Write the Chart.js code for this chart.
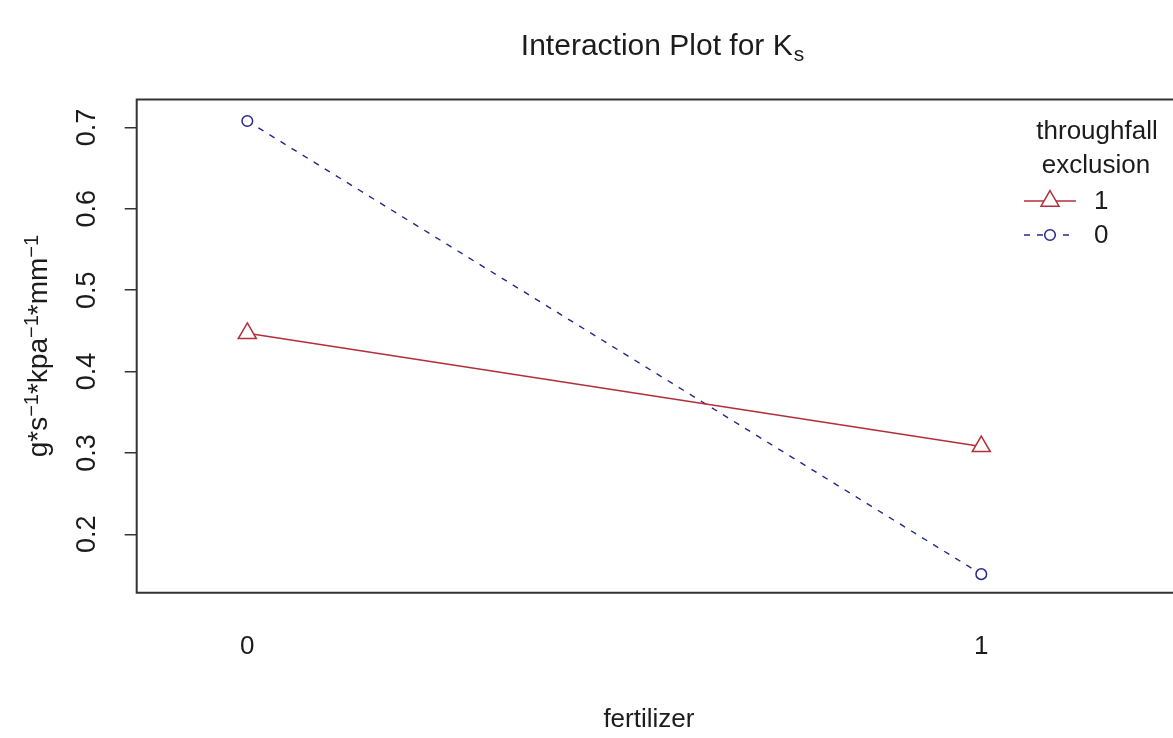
<!DOCTYPE html>
<html>
<head>
<meta charset="utf-8">
<script src="https://cdn.jsdelivr.net/npm/chart.js@4.4.0/dist/chart.umd.min.js"></script>
<style>
html, body { margin: 0; padding: 0; background: #fff; overflow: hidden; }
</style>
</head>
<body>
<canvas id="graficoInteraccion" width="1173" height="738"></canvas>
<script>
// datos
const fertilizerLevels = ['0', '1'];
const fertilizerX = [0, 1];
const exclusionLevels = ['1', '0'];
const ksExclusion1 = [0.447, 0.308];
const ksExclusion0 = [0.708, 0.151];
const yTicks = [0.2, 0.3, 0.4, 0.5, 0.6, 0.7];
const legendTitle = ['throughfall', 'exclusion'];
const chartTitle = 'Interaction Plot for K';
const chartTitleSub = 's';
const xTitle = 'fertilizer';
const yTitleParts = [['g*s', false], ['\u22121', true], ['*kpa', false], ['\u22121', true], ['*mm', false], ['\u22121', true]];

const FONT = '"Liberation Sans", Arial, sans-serif';
const INK = '#1c1c1c';
const RED = '#b2303a';
const BLUE = '#27278e';

Chart.defaults.font.family = FONT;
Chart.defaults.color = INK;

// titulo, ejes, leyenda
const extrasPlugin = {
    id: 'extras',
    afterDraw(chart) {
        const ctx = chart.ctx;
        const a = chart.chartArea;
        ctx.save();

        // marco
        ctx.strokeStyle = '#333';
        ctx.lineWidth = 2;
        ctx.beginPath();
        ctx.moveTo(chart.width + 4, a.top);
        ctx.lineTo(a.left, a.top);
        ctx.lineTo(a.left, a.bottom);
        ctx.lineTo(chart.width + 4, a.bottom);
        ctx.stroke();

        // titulo
        ctx.fillStyle = INK;
        ctx.textBaseline = 'alphabetic';
        ctx.textAlign = 'left';
        ctx.font = '30px ' + FONT;
        const w1 = ctx.measureText(chartTitle).width;
        ctx.font = '21px ' + FONT;
        const w2 = ctx.measureText(chartTitleSub).width;
        let tx = 662 - (w1 + w2) / 2;
        ctx.font = '30px ' + FONT;
        ctx.fillText(chartTitle, tx, 55);
        ctx.font = '21px ' + FONT;
        ctx.fillText(chartTitleSub, tx + w1 + 1, 61);

        // titulo eje y
        ctx.save();
        ctx.translate(47, (a.top + a.bottom) / 2);
        ctx.rotate(-Math.PI / 2);
        let total = 0;
        yTitleParts.forEach(p => {
            ctx.font = (p[1] ? '20px ' : '28px ') + FONT;
            total += ctx.measureText(p[0]).width;
        });
        let px = -total / 2;
        yTitleParts.forEach(p => {
            ctx.font = (p[1] ? '20px ' : '28px ') + FONT;
            ctx.fillText(p[0], px, p[1] ? -9 : 0);
            px += ctx.measureText(p[0]).width;
        });
        ctx.restore();

        // leyenda
        ctx.font = '26px ' + FONT;
        ctx.textAlign = 'center';
        ctx.fillText(legendTitle[0], 1097, 139);
        ctx.fillText(legendTitle[1], 1096, 173);
        chart.data.datasets.forEach((ds, i) => {
            const y = 201 + i * 34;
            ctx.strokeStyle = ds.borderColor;
            ctx.lineWidth = ds.borderWidth;
            ctx.setLineDash(ds.borderDash || []);
            ctx.beginPath();
            ctx.moveTo(1024, y);
            ctx.lineTo(1076, y);
            ctx.stroke();
            ctx.setLineDash([]);
            ctx.fillStyle = '#fff';
            ctx.lineWidth = ds.pointBorderWidth;
            Chart.helpers.drawPoint(ctx, {
                pointStyle: ds.pointStyle,
                radius: ds.pointRadius,
                rotation: 0,
                borderWidth: ds.pointBorderWidth
            }, 1050, y);
            ctx.fillStyle = INK;
            ctx.textAlign = 'left';
            ctx.textBaseline = 'middle';
            ctx.fillText(ds.label, 1094, y + 1);
            ctx.textBaseline = 'alphabetic';
        });

        ctx.restore();
    }
};

const ctxInteraccion = document.getElementById('graficoInteraccion');

let interaccionChart = new Chart(ctxInteraccion, {
    type: 'line',
    data: {
        datasets: [{
            label: exclusionLevels[0],
            data: fertilizerX.map((x, i) => ({ x: x, y: ksExclusion1[i] })),
            borderColor: RED,
            borderWidth: 1.6,
            borderDash: [],
            pointStyle: 'triangle',
            pointRadius: 10.4,
            pointBorderColor: RED,
            pointBackgroundColor: '#fff',
            pointBorderWidth: 1.5,
            tension: 0
        }, {
            label: exclusionLevels[1],
            data: fertilizerX.map((x, i) => ({ x: x, y: ksExclusion0[i] })),
            borderColor: BLUE,
            borderWidth: 1.4,
            borderDash: [6, 7],
            pointStyle: 'circle',
            pointRadius: 5.3,
            pointBorderColor: BLUE,
            pointBackgroundColor: '#fff',
            pointBorderWidth: 1.5,
            tension: 0
        }]
    },
    options: {
        responsive: false,
        animation: false,
        events: [],
        layout: { padding: { top: 99.5, left: 0, right: 0, bottom: 0 } },
        plugins: {
            legend: { display: false },
            title: { display: false },
            tooltip: { enabled: false }
        },
        scales: {
            x: {
                type: 'linear',
                min: -0.1507,
                max: 1.2450,
                afterBuildTicks: scale => { scale.ticks = fertilizerX.map(v => ({ value: v })); },
                afterFit: scale => { scale.height = 145.3; },
                ticks: {
                    font: { size: 26 },
                    color: INK,
                    padding: 38.7,
                    maxRotation: 0,
                    callback: value => fertilizerLevels[fertilizerX.indexOf(value)]
                },
                grid: { display: false, drawTicks: false },
                border: { display: false },
                title: {
                    display: true,
                    text: xTitle,
                    font: { size: 26 },
                    color: INK,
                    padding: { top: 0, bottom: 2.4 }
                }
            },
            y: {
                min: 0.1282,
                max: 0.7344,
                afterBuildTicks: scale => { scale.ticks = yTicks.map(v => ({ value: v })); },
                afterFit: scale => { scale.width = 136.7; },
                ticks: {
                    font: { size: 27 },
                    color: INK,
                    padding: 18,
                    minRotation: 90,
                    maxRotation: 90,
                    crossAlign: 'center',
                    autoSkip: false,
                    callback: value => value.toFixed(1)
                },
                grid: {
                    drawOnChartArea: false,
                    drawTicks: true,
                    tickLength: 12,
                    color: '#333',
                    lineWidth: 1.5
                },
                border: { display: false }
            }
        }
    },
    plugins: [extrasPlugin]
});
</script>
</body>
</html>
